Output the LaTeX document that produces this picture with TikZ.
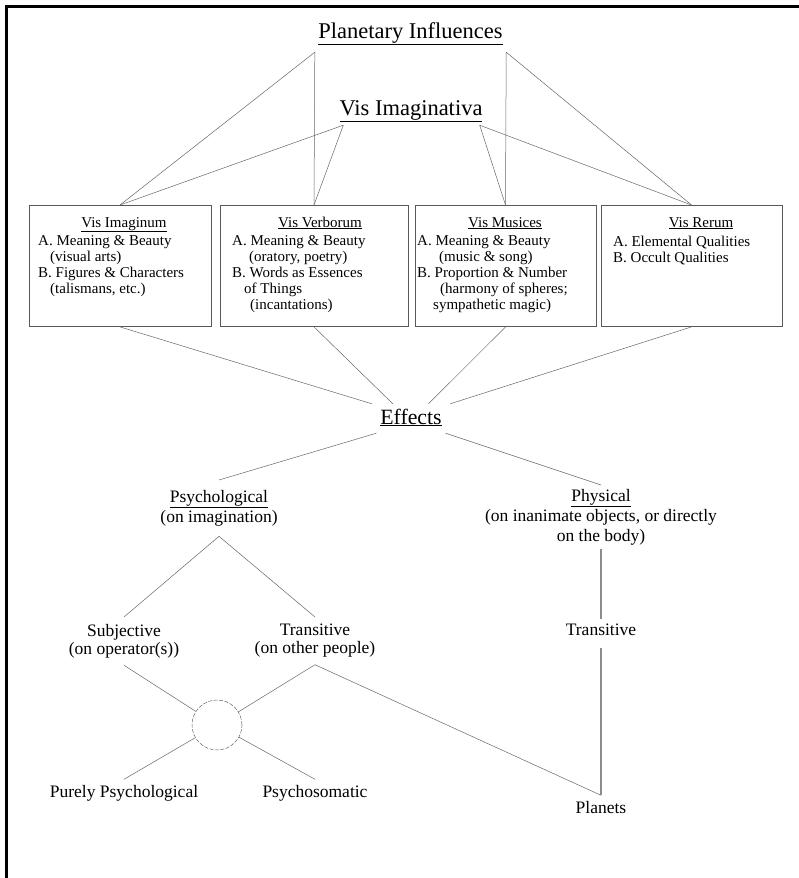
\documentclass[tikz,border=0pt]{standalone}
\usepackage{fontspec}
\setmainfont{Liberation Serif}
\newcommand{\headfont}{\fontsize{22.5}{26}\selectfont}
\newcommand{\bodyfont}{\fontsize{17.5}{20}\selectfont}
\newcommand{\boxfont}{\fontsize{15}{16}\selectfont}
\definecolor{linegray}{gray}{0.4}
\definecolor{boxgray}{gray}{0.35}
\tikzset{
  link/.style={draw=linegray, line width=0.5pt},
  heavylink/.style={draw=black!45, line width=1.1pt},
  head/.style={font=\headfont, inner sep=0pt, anchor=base},
  visbox/.style={draw=boxgray, line width=0.9pt, minimum height=121pt, inner sep=0pt, anchor=north},
  boxhead/.style={font=\boxfont, inner sep=0pt, anchor=base},
  boxlist/.style={font=\boxfont, inner sep=0pt, anchor=north west, align=left},
  branch/.style={font=\bodyfont, align=center, anchor=north},
  leaf/.style={font=\bodyfont, anchor=base, text height=12pt, inner ysep=5.5pt},
  mixer/.style={circle, draw=linegray, line width=0.5pt, dash pattern=on 4pt off 1.5pt, minimum size=50pt, inner sep=0pt},
}
\begin{document}
\begin{tikzpicture}[x=1pt, y=-1pt]
    \useasboundingbox (0,0) rectangle (799,878);
    \draw[line width=3pt] (799,6.2) -- (6.2,6.2) -- (6.2,878);

    % headings
    \node[head, text depth=14pt, minimum width=191pt] (planet) at (410.5,38) {\underline{Planetary Influences}};
    \node[head, text depth=10pt] (visimag) at (411,115) {\underline{Vis Imaginativa}};

    % the four boxes
    \node[visbox, minimum width=182pt] (imag) at (120,205) {};
    \node[visbox, minimum width=188pt] (verb) at (314,205) {};
    \node[visbox, minimum width=181pt] (mus) at (505.5,205) {};
    \node[visbox, minimum width=181pt] (rer) at (691.5,205) {};

    \node[boxhead] (imagT) at (124,227) {\underline{Vis Imaginum}};
    \node[boxhead] (verbT) at (320,227) {\underline{Vis Verborum}};
    \node[boxhead] (musT) at (505,227) {\underline{Vis Musices}};
    \node[boxhead] (rerT) at (701,227) {\underline{Vis Rerum}};

    \node[boxlist] (imagL) at (38,235.5) {A. Meaning \& Beauty\\\hspace*{12pt}(visual arts)\\B. Figures \& Characters\\\hspace*{12pt}(talismans, etc.)};
    \node[boxlist] (verbL) at (232,235.5) {A. Meaning \& Beauty\\\hspace*{17pt}(oratory, poetry)\\B. Words as Essences\\\hspace*{12pt}of Things\\\hspace*{18pt}(incantations)};
    \node[boxlist] (musL) at (417,235.5) {A. Meaning \& Beauty\\\hspace*{22pt}(music \& song)\\B. Proportion \& Number\\\hspace*{23pt}(harmony of spheres;\\\hspace*{16pt}sympathetic magic)};
    \node[boxlist] (rerL) at (613,235.5) {A. Elemental Qualities\\B. Occult Qualities};

    % effects and below
    \node[head, font=\fontsize{21.8}{26}\selectfont, text height=20pt, text depth=9pt, minimum width=78pt] (effects) at (411,424) {\underline{Effects}};
    \node[branch, inner ysep=10pt] (psych) at (219,480) {\underline{Psychological}\\(on imagination)};
    \node[branch, inner ysep=4pt] (phys) at (601,485) {\underline{Physical}\\(on inanimate objects, or directly\\on the body)};

    \node[branch, inner ysep=7pt, font=\fontsize{17.5}{18}\selectfont] (subj) at (124,617) {Subjective\\(on operator(s))};
    \node[branch, inner ysep=7pt, font=\fontsize{17.5}{18}\selectfont] (other) at (315,617) {Transitive\\(on other people)};
    \node[leaf, text depth=9pt, inner ysep=4pt] (ptrans) at (601,635) {Transitive};
    \node[mixer] (mix) at (217,725) {};
    \node[leaf] (pure) at (124,797) {Purely Psychological};
    \node[leaf] (soma) at (315,797) {Psychosomatic};
    \node[leaf] (planets) at (601,813) {Planets};

    % connectors
    \foreach \b in {imag,verb}
        \draw[link] (planet.south west) -- (\b.north);
    \foreach \b in {mus,rer}
        \draw[link] (planet.south east) -- (\b.north);
    \foreach \b in {imag,verb}
        \draw[link] ([xshift=4pt]visimag.south west) -- (\b.north);
    \foreach \b in {mus,rer}
        \draw[link] ([xshift=-3pt]visimag.south east) -- (\b.north);

    \draw[link] (imag.south) -- (effects.north west);
    \draw[link] (verb.south) -- (effects.141);
    \draw[link] (mus.south) -- (effects.40);
    \draw[link] (rer.south) -- (effects.north east);
    \draw[link] (effects.203) -- (psych.north);
    \draw[link] (effects.337) -- (phys.north);

    \draw[link] (psych.south) -- (subj.north);
    \draw[link] (psych.south) -- (other.north);
    \draw[link] (subj.south) -- (mix);
    \draw[link] (other.south) -- (mix);
    \draw[link] (mix) -- (pure.north);
    \draw[link] (mix) -- (soma.north);
    \draw[link] (other.south) -- (planets.north);
    \draw[heavylink] (phys.south) -- (ptrans.north);
    \draw[heavylink] (ptrans.south) -- (planets.north);
\end{tikzpicture}
\end{document}
